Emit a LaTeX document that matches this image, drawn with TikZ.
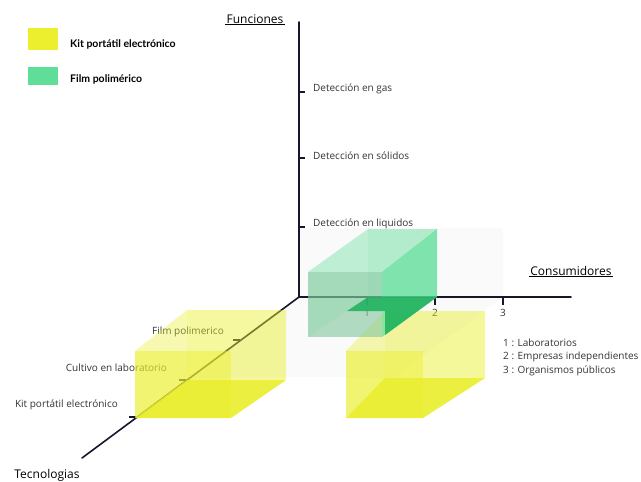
\documentclass[tikz,border=0pt]{standalone}
\usepackage{fontspec}
\setmainfont{Open Sans}
\newfontfamily\legendfont{Lato}
\usetikzlibrary{positioning}

\definecolor{kitcol}{HTML}{EBEF2E}
\definecolor{kitbase}{HTML}{E8EC18}
\definecolor{filmcol}{HTML}{5EDE98}
\definecolor{filmface}{HTML}{80C79E}
\definecolor{filmbase}{HTML}{22B35F}
\definecolor{axiscol}{HTML}{16162C}
\definecolor{txtcol}{HTML}{333333}

% colour, front colour, side opacity, front top-left, front bottom-right, back top-left, back bottom-right
\newcommand{\drawprism}[7]{%
  \fill[#1, fill opacity=.30] (#6) rectangle (#7);
  \fill[#1, fill opacity=.20] (#4) -- (#6) -- (#6 |- #7) -- (#4 |- #5) -- cycle;
  \fill[#1, fill opacity=.22] (#4) -- (#5 |- #4) -- (#7 |- #6) -- (#6) -- cycle;
  \fill[#1, fill opacity=#3] (#5 |- #4) -- (#7 |- #6) -- (#7) -- (#5) -- cycle;
  \fill[#2, fill opacity=.6] (#4) rectangle (#5);
}

\begin{document}
\begin{tikzpicture}
[
  x=1pt, y=-1pt,
  axis/.style={line width=1.6pt, draw=axiscol, line cap=round},
  tickmark/.style={line width=1.4pt, draw=axiscol},
  lbl/.style={font=\fontsize{10}{12}\selectfont, text=txtcol, inner sep=0pt},
  title/.style={font=\fontsize{12}{14}\selectfont, inner sep=1pt},
  leg/.style={font=\legendfont\bfseries\fontsize{10.5}{12}\selectfont, inner sep=0pt, anchor=west}
]
 \useasboundingbox (0,0) rectangle (641,482);

 % faint planes
 \fill[black!2] (299,228) rectangle (503,297);
 \fill[black!2] (299,297) -- (503,297) -- (394,377) -- (190,377) -- cycle;

 % axes
 \coordinate (o) at (299,297);
 \coordinate (ftop) at (299,22);
 \coordinate (cend) at (571,297);
 \coordinate (tend) at (82,458);
 \draw[axis] (o) -- (ftop);
 \draw[axis] (o) -- (cend);
 \draw[axis] (o) -- (tend);

 % funciones
 \coordinate (f1) at (299,92);
 \coordinate (f2) at (299,158);
 \coordinate (f3) at (299,227);
 \foreach \f in {f1,f2,f3} \draw[tickmark] (\f) -- ++(6,0);
 \node[lbl, anchor=west] (gas) at (313,89) {Detección en gas};
 \node[lbl, anchor=west] (sol) at (313,156) {Detección en sólidos};
 \node[lbl, anchor=west] (liq) at (313,224) {Detección en liquidos};

 % consumidores
 \coordinate (c1) at (367,297);
 \coordinate (c2) at (435,297);
 \coordinate (c3) at (503,297);
 \foreach \c in {c1,c2,c3} \draw[tickmark] (\c) -- ++(0,8);
 \node[lbl] (n1) at (367,313) {1};
 \node[lbl] (n2) at (435,313) {2};
 \node[lbl] (n3) at (503,313) {3};
 \node[lbl, anchor=west] (lab) at (503,343) {1 : Laboratorios};
 \node[lbl, anchor=west] (emp) at (503,357) {2 : Empresas independientes};
 \node[lbl, anchor=west] (org) at (503,371) {3 : Organismos públicos};

 % tecnologias
 \coordinate (t1) at (240,340);
 \coordinate (t2) at (186,380);
 \coordinate (t3) at (136,417);
 \foreach \t in {t1,t2,t3} \draw[tickmark] (\t) -- ++(-7,0);
 \node[lbl, anchor=east] (film) at (224,332) {Film polimerico};
 \node[lbl, anchor=east] (cult) at (167,368) {Cultivo en laboratorio};
 \node[lbl, anchor=east] (kit) at (118,405) {Kit portátil electrónico};

 % titles
 \node[title] (fun) at (255,19) {Funciones};
 \node[title] (con) at (571,271) {Consumidores};
 \node[title] (tec) at (47,475) {Tecnologias};
 \draw[line width=1.3pt] (fun.south west) -- (fun.south east);
 \draw[line width=1.3pt] (con.south west) -- (con.south east);

 % prisms
 \coordinate (yA) at (135,351); \coordinate (yB) at (231,418);
 \coordinate (yC) at (187,310); \coordinate (yD) at (286,380);
 \fill[kitbase, fill opacity=.8] (yA |- yB) -- (yB) -- (yD) -- (yC |- yD) -- cycle;
 \drawprism{kitcol}{kitcol}{.25}{yA}{yB}{yC}{yD}
 \coordinate (zA) at (346,351); \coordinate (zB) at (423,418);
 \coordinate (zC) at (385,311); \coordinate (zD) at (485,378);
 \fill[kitbase, fill opacity=.8] (zA |- zB) -- (zB) -- (zD) -- (zC |- zD) -- cycle;
 \drawprism{kitcol}{kitcol}{.25}{zA}{zB}{zC}{zD}
 \coordinate (gA) at (308,272); \coordinate (gB) at (382,337);
 \coordinate (gC) at (368,229); \coordinate (gD) at (437,297);
 \drawprism{filmcol}{filmface}{.70}{gA}{gB}{gC}{gD}
 \fill[filmbase, fill opacity=.9] (347,311) -- (368,297) -- (gD) -- (385,335) -- (385,311) -- cycle;

 % legend
 \fill[kitcol] (28,28) rectangle (58,50);
 \fill[filmcol] (28,67) rectangle (58,85);
 \node[leg] (legkit) at (70,44) {Kit portátil electrónico};
 \node[leg] (legfilm) at (70,79) {Film polimérico};
\end{tikzpicture}
\end{document}
